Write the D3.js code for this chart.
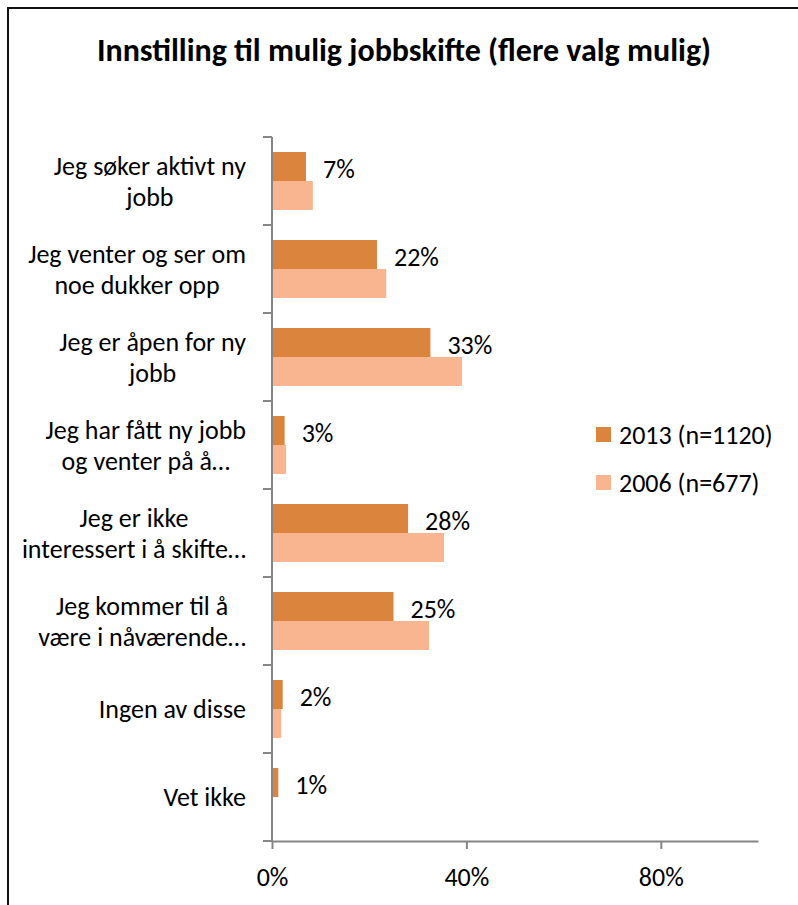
<!DOCTYPE html>
<html>
<head>
<meta charset="utf-8">
<script src="https://cdn.jsdelivr.net/npm/d3@7"></script>
<style>
  body { margin: 0; background: #fff; }
  text { font-family: Carlito, Calibri, Lato, sans-serif; fill: #000; }
</style>
</head>
<body>
<script>
// data
const categories = [
    "Jeg søker aktivt ny jobb",
    "Jeg venter og ser om noe dukker opp",
    "Jeg er åpen for ny jobb",
    "Jeg har fått ny jobb og venter på å",
    "Jeg er ikke interessert i å skifte",
    "Jeg kommer til å være i nåværende",
    "Ingen av disse",
    "Vet ikke"
];
// tick labels as they appear (wrapped / cut off)
const tickLines = [
    ["Jeg søker aktivt ny", "jobb"],
    ["Jeg venter og ser om", "noe dukker opp"],
    ["Jeg er åpen for ny", "jobb"],
    ["Jeg har fått ny jobb", "og venter på å…"],
    ["Jeg er ikke", "interessert i å skifte…"],
    ["Jeg kommer til å", "være i nåværende…"],
    ["Ingen av disse"],
    ["Vet ikke"]
];
const series = ["2013 (n=1120)", "2006 (n=677)"];
const values2013 = [7.0, 21.6, 32.6, 2.6, 28.0, 25.0, 2.2, 1.3];
const values2006 = [8.4, 23.5, 39.1, 2.9, 35.4, 32.3, 1.9, 0];
const xTicks = [0, 40, 80];

const colors = ["#DB843D", "#F9B590"];

const width = 798;
const height = 905;
const fs = "26px";

const svg = d3.select("body")
    .append("svg")
    .attr("width", width)
    .attr("height", height);

// outer frame (runs past right and bottom edge)
svg.append("rect")
    .attr("x", 8)
    .attr("y", 8)
    .attr("width", 820)
    .attr("height", 940)
    .attr("fill", "none")
    .attr("stroke", "#111")
    .attr("stroke-width", 2);

svg.append("text")
    .attr("x", 404)
    .attr("y", 50)
    .attr("text-anchor", "middle")
    .attr("dominant-baseline", "central")
    .style("font-size", "32px")
    .style("font-weight", "bold")
    .text("Innstilling til mulig jobbskifte (flere valg mulig)");

const x = d3.scaleLinear()
    .domain([0, 100])
    .range([272, 758]);

const y0 = d3.scaleBand()
    .domain(categories)
    .range([137, 841]);

const y1 = d3.scaleBand()
    .domain(series)
    .range([15, y0.bandwidth() - 15]);

const rows = categories.map((c, i) => ({
    cat: c,
    lines: tickLines[i],
    vals: [values2013[i], values2006[i]]
}));

const axisColor = "#868686";

// bars
const groups = svg.append("g")
    .selectAll("g")
    .data(rows)
    .enter().append("g")
    .attr("transform", d => "translate(0," + y0(d.cat) + ")");

groups.selectAll("rect")
    .data(d => d.vals.map((v, j) => ({ s: series[j], v: v, j: j })))
    .enter().append("rect")
    .attr("x", x(0))
    .attr("y", d => y1(d.s))
    .attr("width", d => x(d.v) - x(0))
    .attr("height", y1.bandwidth())
    .attr("fill", d => colors[d.j]);

// value labels for 2013
groups.append("text")
    .attr("x", d => x(d.vals[0]) + 17)
    .attr("y", d => y1(series[0]) + y1.bandwidth() / 2 + 2)
    .attr("dominant-baseline", "central")
    .style("font-size", fs)
    .text(d => Math.round(d.vals[0]) + "%");

// y axis
const yAxis = svg.append("g");
yAxis.append("line")
    .attr("x1", x(0)).attr("x2", x(0))
    .attr("y1", y0.range()[0]).attr("y2", y0.range()[1])
    .attr("stroke", axisColor).attr("stroke-width", 2);

const bounds = categories.map(c => y0(c)).concat([y0.range()[1]]);
yAxis.selectAll("line.tick")
    .data(bounds)
    .enter().append("line")
    .attr("class", "tick")
    .attr("x1", x(0) - 9).attr("x2", x(0))
    .attr("y1", d => d).attr("y2", d => d)
    .attr("stroke", axisColor).attr("stroke-width", 2);

// category labels: block right aligned, lines centred in block
const lineH = 31;
const labels = yAxis.selectAll("g.lab")
    .data(rows)
    .enter().append("g")
    .attr("class", "lab");

labels.each(function (d) {
    const g = d3.select(this);
    const cy = y0(d.cat) + y0.bandwidth() / 2;
    const n = d.lines.length;
    const ts = g.selectAll("text")
        .data(d.lines)
        .enter().append("text")
        .attr("text-anchor", "middle")
        .attr("dominant-baseline", "central")
        .attr("y", (l, k) => cy + (k - (n - 1) / 2) * lineH)
        .style("font-size", fs)
        .text(l => l);
    let maxW = 0;
    ts.each(function () { maxW = Math.max(maxW, this.getComputedTextLength()); });
    ts.attr("x", x(0) - 26 - maxW / 2);
});

// x axis
const xAxis = d3.axisBottom(x)
    .tickValues(xTicks)
    .tickSize(8)
    .tickSizeOuter(0)
    .tickFormat(d => d + "%");

const xg = svg.append("g")
    .attr("transform", "translate(0," + y0.range()[1] + ")")
    .call(xAxis);

xg.select(".domain").attr("stroke", axisColor).attr("stroke-width", 2);
xg.selectAll(".tick line").attr("stroke", axisColor).attr("stroke-width", 2);
xg.selectAll(".tick text")
    .attr("y", 36)
    .attr("dy", null)
    .attr("dominant-baseline", "central")
    .attr("fill", "#000")
    .style("font-size", fs)
    .style("font-family", "Carlito, Calibri, Lato, sans-serif");

// legend
const legend = svg.append("g")
    .selectAll("g")
    .data(series)
    .enter().append("g")
    .attr("transform", (d, i) => "translate(596," + (427 + i * 48) + ")");

legend.append("rect")
    .attr("width", 15)
    .attr("height", 15)
    .attr("fill", (d, i) => colors[i]);

legend.append("text")
    .attr("x", 23)
    .attr("y", 8)
    .attr("dominant-baseline", "central")
    .style("font-size", fs)
    .text(d => d);
</script>
</body>
</html>
